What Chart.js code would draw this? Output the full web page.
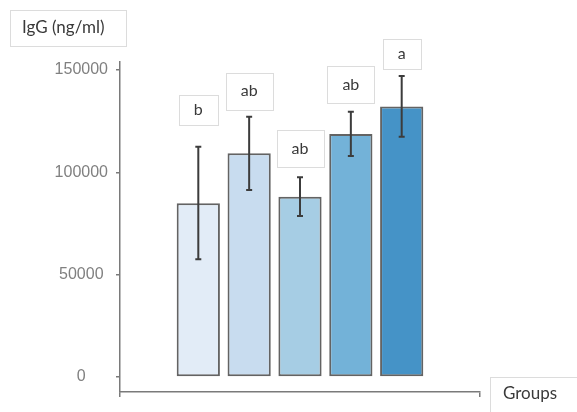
<!DOCTYPE html>
<html>
<head>
<meta charset="utf-8">
<script src="https://cdn.jsdelivr.net/npm/chart.js@4"></script>
<style>
  html, body { margin: 0; padding: 0; background: #fff; }
  canvas { display: block; }
</style>
</head>
<body>
<canvas id="iggChart" width="577" height="412"></canvas>
<script>
// values
const groups = ["G1", "G2", "G3", "G4", "G5"];
const igg = [84900, 109300, 88100, 118700, 132100];
const errLow = [57500, 91400, 78700, 108000, 117400];
const errHigh = [112500, 127200, 97600, 129600, 147100];
const letters = ["b", "ab", "ab", "ab", "a"];
const letterAt = [130300, 139600, 111600, 142800, 157700];
const yTicks = [0, 50000, 100000, 150000];

const barColors = ["#e2ecf7", "#c8dcef", "#a6cde4", "#73b2d8", "#4593c7"];
const axisGray = "#7a7a7a";

function drawBox(ctx, cx, cy, w, h) {
  ctx.fillStyle = "#fff";
  ctx.fillRect(cx - w / 2, cy - h / 2, w, h);
  ctx.strokeStyle = "#dcdcdc";
  ctx.lineWidth = 1;
  ctx.strokeRect(Math.round(cx - w / 2) + 0.5, Math.round(cy - h / 2) + 0.5, Math.round(w), Math.round(h));
}

const extras = {
  id: "extras",
  afterDatasetsDraw(chart) {
    const ctx = chart.ctx;
    const x = chart.scales.x, y = chart.scales.y;
    ctx.save();
    ctx.strokeStyle = "#3c3c3c";
    ctx.lineWidth = 2;
    groups.forEach((g, i) => {
      const px = x.getPixelForValue(i + 1);
      const lo = y.getPixelForValue(errLow[i]);
      const hi = y.getPixelForValue(errHigh[i]);
      ctx.beginPath();
      ctx.moveTo(px, lo); ctx.lineTo(px, hi);
      ctx.moveTo(px - 3, lo); ctx.lineTo(px + 3, lo);
      ctx.moveTo(px - 3, hi); ctx.lineTo(px + 3, hi);
      ctx.stroke();
    });
    ctx.restore();
  },
  afterDraw(chart) {
    const ctx = chart.ctx;
    const x = chart.scales.x, y = chart.scales.y;
    ctx.save();
    ctx.font = "16px Lato";
    ctx.textBaseline = "middle";
    ctx.textAlign = "center";
    letters.forEach((t, i) => {
      const px = x.getPixelForValue(i + 1);
      const py = y.getPixelForValue(letterAt[i]);
      const w = ctx.measureText(t).width + 30;
      const h = t.length > 1 ? 37 : 30;
      drawBox(ctx, px, py, w, h);
      ctx.fillStyle = "#3a3a3a";
      ctx.fillText(t, px, py);
    });

    // axis title boxes
    ctx.textAlign = "left";
    drawBox(ctx, 68, 28, 116, 36);
    ctx.fillStyle = "#3a3a3a";
    ctx.font = "17px Lato";
    ctx.fillText("IgG (ng/ml)", 22, 28);

    drawBox(ctx, 545, 400, 110, 46);
    ctx.fillStyle = "#3a3a3a";
    ctx.font = "17px Lato";
    ctx.fillText("Groups", 503, 394);
    ctx.restore();
  }
};

new Chart(document.getElementById("iggChart"), {
  type: "bar",
  data: {
    datasets: [{
      label: "IgG",
      data: igg.map((v, i) => ({ x: i + 1, y: v })),
      backgroundColor: barColors,
      borderColor: "#636363",
      borderWidth: 2,
      borderSkipped: false,
      barPercentage: 0.85,
      categoryPercentage: 1
    }]
  },
  options: {
    responsive: false,
    animation: false,
    layout: { padding: { top: 62, right: 97, bottom: 0, left: 0 } },
    plugins: {
      legend: { display: false },
      tooltip: { enabled: false }
    },
    scales: {
      x: {
        type: "linear",
        offset: false,
        min: -0.54,
        max: 6.54,
        afterBuildTicks: s => { s.ticks = [{ value: 3 }]; },
        afterFit: s => { s.height = 20; },
        ticks: { callback: () => "", padding: 0 },
        grid: { drawOnChartArea: false, tickLength: 5, color: axisGray, lineWidth: 1.5 },
        border: { display: true, color: axisGray, width: 1.5 }
      },
      y: {
        min: -7330,
        max: 153900,
        afterBuildTicks: s => { s.ticks = yTicks.map(v => ({ value: v })); },
        afterFit: s => { s.width = 120; },
        ticks: {
          color: "#808080",
          font: { family: "Liberation Sans", size: 16 },
          padding: 8,
          crossAlign: "center",
          callback: v => String(v)
        },
        grid: { drawOnChartArea: false, tickLength: 4, color: axisGray, lineWidth: 1.5 },
        border: { display: true, color: axisGray, width: 1.5 }
      }
    }
  },
  plugins: [extras]
});
</script>
</body>
</html>
